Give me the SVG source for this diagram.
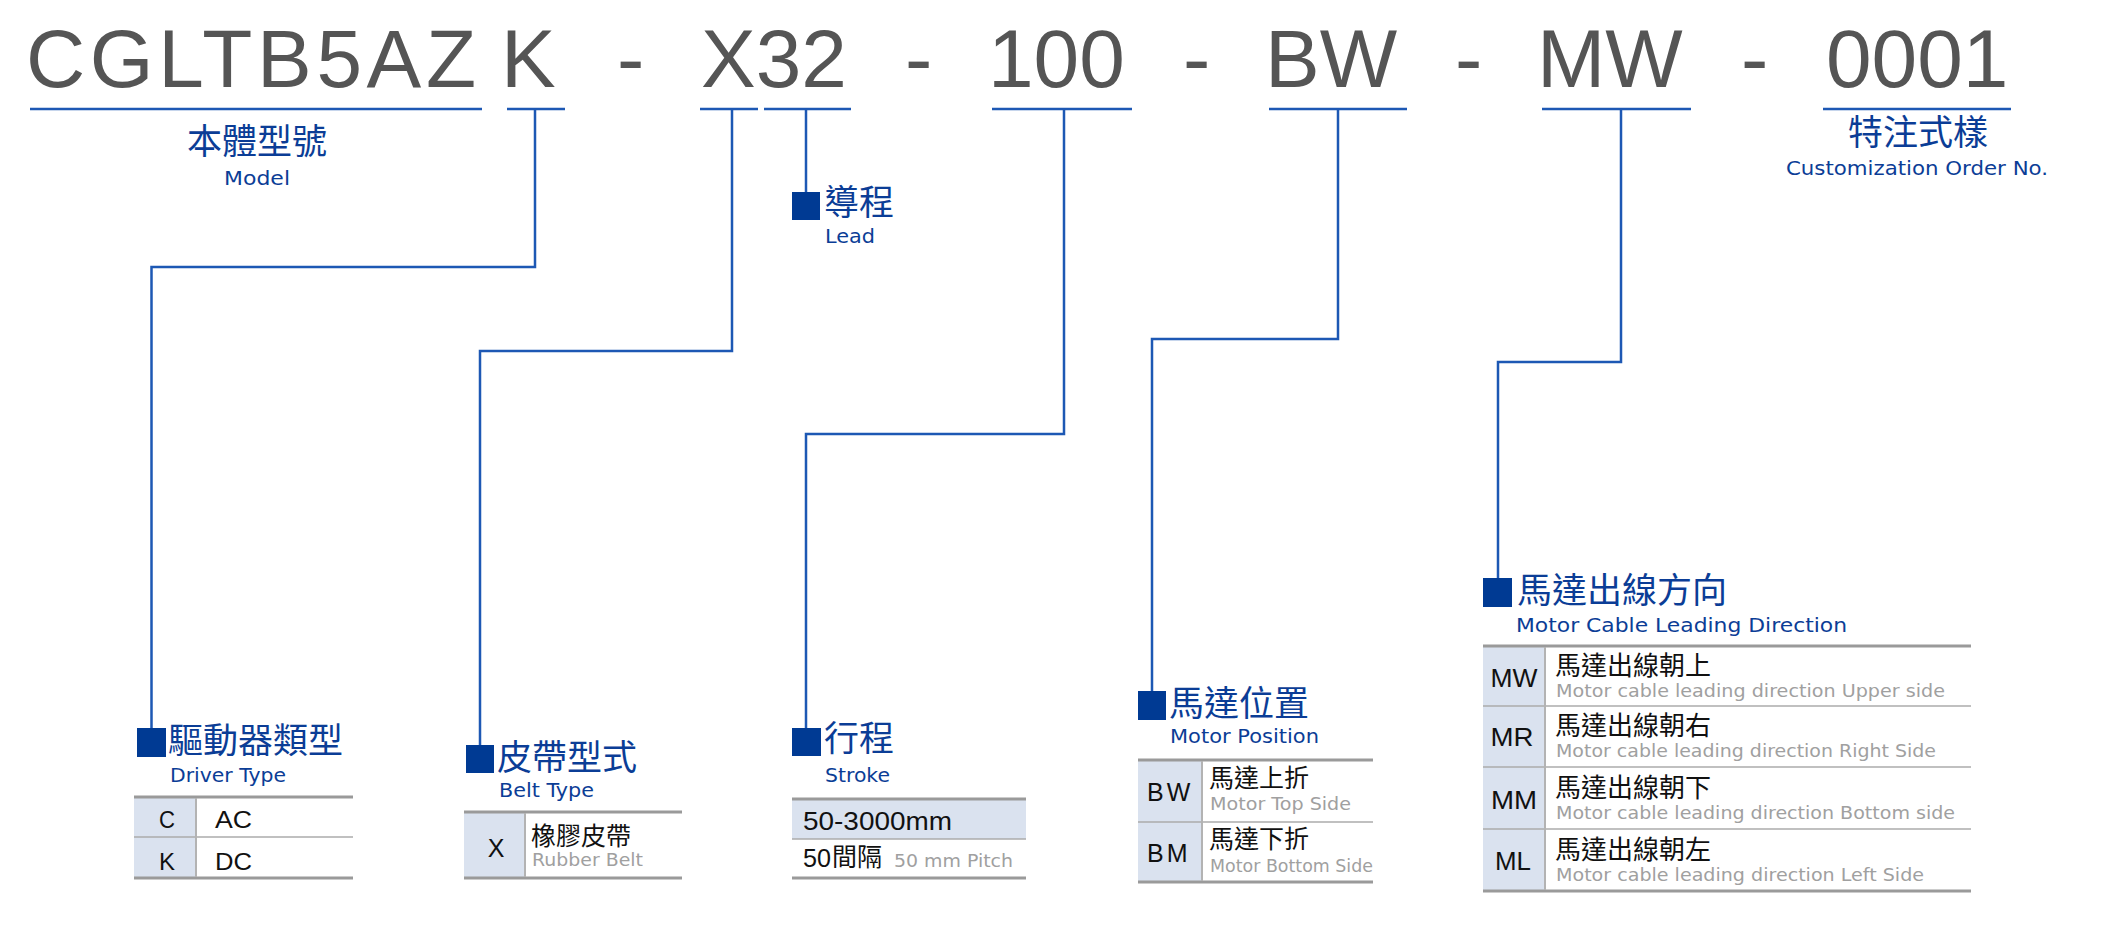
<svg xmlns="http://www.w3.org/2000/svg" width="2106" height="939" viewBox="0 0 2106 939">
<style>
.big{font-family:"Liberation Sans",Arial,sans-serif;font-size:82px;fill:#555555}
.ul{stroke:#1d58b4;stroke-width:2.5;fill:none}
.con{stroke:#1d58b4;stroke-width:2.5;fill:none}
.sq{fill:#003a93}
.cjkh{font-family:"Noto Sans CJK TC","Noto Sans CJK SC",sans-serif;font-size:35px;fill:#0b3d96}
.en{font-family:"DejaVu Sans","Noto Sans",sans-serif;font-size:20px;fill:#0b3d96}
.shade{fill:#dae2ef}
.thick{stroke:#9a9a9a;stroke-width:3}
.thin{stroke:#ababab;stroke-width:1.5}
.col{stroke:#b3b3b3;stroke-width:2}
.code{font-family:"Liberation Sans",Arial,sans-serif;font-size:23px;fill:#111}
.cjk{font-family:"Noto Sans CJK TC","Noto Sans CJK SC",sans-serif;font-size:25px;fill:#111}
.gray{font-family:"DejaVu Sans","Noto Sans",sans-serif;font-size:17px;fill:#a0a0a0}
</style>
<rect width="2106" height="939" fill="#ffffff"/>

<g id="title">
<text class="big" x="26" y="87" textLength="450" lengthAdjust="spacing">CGLTB5AZ</text>
<text class="big" x="501" y="87">K</text>
<text class="big" x="617" y="87">-</text>
<text class="big" x="701" y="87">X32</text>
<text class="big" x="905" y="87">-</text>
<text class="big" x="988" y="87">100</text>
<text class="big" x="1183" y="87">-</text>
<text class="big" x="1265" y="87">BW</text>
<text class="big" x="1455" y="87">-</text>
<text class="big" x="1537" y="87">MW</text>
<text class="big" x="1741" y="87">-</text>
<text class="big" x="1826" y="87">0001</text>
<path class="ul" d="M30 109H482M507 109H565M700 109H758M764 109H851M992 109H1132M1269 109H1407M1542 109H1691M1823 109H2011"/>
</g>

<g id="connectors">
<path class="con" d="M535 109V267H151.5V728"/>
<path class="con" d="M732 109V351H480V745"/>
<path class="con" d="M806 109V192"/>
<path class="con" d="M1064 109V434H806V728"/>
<path class="con" d="M1338 109V339H1152V691"/>
<path class="con" d="M1621 109V362H1498V578"/>
</g>

<g id="model">
<text class="cjkh" x="257" y="154" text-anchor="middle">本體型號</text>
<text class="en" x="224" y="185" textLength="66" lengthAdjust="spacingAndGlyphs">Model</text>
</g>

<g id="custom">
<text class="cjkh" x="1918" y="145" text-anchor="middle">特注式樣</text>
<text class="en" x="1786" y="175" textLength="262" lengthAdjust="spacingAndGlyphs">Customization Order No.</text>
</g>

<g id="lead">
<rect class="sq" x="792" y="192" width="28" height="28"/>
<text class="cjkh" x="824" y="215">導程</text>
<text class="en" x="825" y="243" textLength="50" lengthAdjust="spacingAndGlyphs">Lead</text>
</g>

<g id="driver">
<rect class="sq" x="137" y="728" width="29" height="29"/>
<text class="cjkh" x="168" y="753">驅動器類型</text>
<text class="en" x="170" y="782" textLength="116" lengthAdjust="spacingAndGlyphs">Driver Type</text>
<rect class="shade" x="134" y="797" width="62" height="81"/>
<line class="thick" x1="134" y1="797" x2="353" y2="797"/>
<line class="thin" x1="134" y1="837" x2="353" y2="837"/>
<line class="thick" x1="134" y1="878" x2="353" y2="878"/>
<line class="col" x1="196" y1="798" x2="196" y2="877"/>
<text class="code" x="167" y="828" text-anchor="middle" textLength="16" lengthAdjust="spacingAndGlyphs">C</text>
<text class="code" x="215" y="828" textLength="37" lengthAdjust="spacingAndGlyphs">AC</text>
<text class="code" x="167" y="870" text-anchor="middle" textLength="16" lengthAdjust="spacingAndGlyphs">K</text>
<text class="code" x="215" y="870" textLength="37" lengthAdjust="spacingAndGlyphs">DC</text>
</g>

<g id="belt">
<rect class="sq" x="466" y="745" width="28" height="28"/>
<text class="cjkh" x="497" y="770">皮帶型式</text>
<text class="en" x="499" y="797" textLength="95" lengthAdjust="spacingAndGlyphs">Belt Type</text>
<rect class="shade" x="464" y="812" width="61" height="66"/>
<line class="thick" x1="464" y1="812" x2="682" y2="812"/>
<line class="thick" x1="464" y1="878" x2="682" y2="878"/>
<line class="col" x1="525" y1="813" x2="525" y2="877"/>
<text class="code" x="496" y="857" text-anchor="middle" style="font-size:25px">X</text>
<text class="cjk" x="531" y="845">橡膠皮帶</text>
<text class="gray" x="532" y="866" textLength="111" lengthAdjust="spacingAndGlyphs">Rubber Belt</text>
</g>

<g id="stroke">
<rect class="sq" x="792" y="728" width="29" height="28"/>
<text class="cjkh" x="824" y="751">行程</text>
<text class="en" x="825" y="782" textLength="65" lengthAdjust="spacingAndGlyphs">Stroke</text>
<rect class="shade" x="792" y="799" width="234" height="40"/>
<line class="thick" x1="792" y1="799" x2="1026" y2="799"/>
<line class="thin" x1="792" y1="839" x2="1026" y2="839"/>
<line class="thick" x1="792" y1="878" x2="1026" y2="878"/>
<text class="code" x="803" y="830" textLength="149" lengthAdjust="spacingAndGlyphs" style="font-size:25px">50-3000mm</text>
<text class="code" x="803" y="867" style="font-size:25px" textLength="28" lengthAdjust="spacingAndGlyphs">50</text>
<text class="cjk" x="832" y="866">間隔</text>
<text class="gray" x="894" y="867" textLength="119" lengthAdjust="spacingAndGlyphs">50 mm Pitch</text>
</g>

<g id="motor-position">
<rect class="sq" x="1138" y="691" width="28" height="29"/>
<text class="cjkh" x="1169" y="716">馬達位置</text>
<text class="en" x="1170" y="743" textLength="149" lengthAdjust="spacingAndGlyphs">Motor Position</text>
<rect class="shade" x="1138" y="760" width="64" height="122"/>
<line class="thick" x1="1138" y1="760" x2="1373" y2="760"/>
<line class="thin" x1="1138" y1="822" x2="1373" y2="822"/>
<line class="thick" x1="1138" y1="882" x2="1373" y2="882"/>
<line class="col" x1="1202" y1="761" x2="1202" y2="881"/>
<text class="code" x="1147" y="801" style="font-size:25px;letter-spacing:3px">BW</text>
<text class="cjk" x="1209" y="787">馬達上折</text>
<text class="gray" x="1210" y="810" textLength="141" lengthAdjust="spacingAndGlyphs">Motor Top Side</text>
<text class="code" x="1147" y="862" style="font-size:25px;letter-spacing:3px">BM</text>
<text class="cjk" x="1209" y="848">馬達下折</text>
<text class="gray" x="1210" y="872" textLength="163" lengthAdjust="spacingAndGlyphs">Motor Bottom Side</text>
</g>

<g id="cable-direction">
<rect class="sq" x="1483" y="578" width="29" height="29"/>
<text class="cjkh" x="1517" y="603">馬達出線方向</text>
<text class="en" x="1516" y="632" textLength="331" lengthAdjust="spacingAndGlyphs">Motor Cable Leading Direction</text>
<rect class="shade" x="1483" y="646" width="62" height="245"/>
<line class="thick" x1="1483" y1="646" x2="1971" y2="646"/>
<line class="thin" x1="1483" y1="706" x2="1971" y2="706"/>
<line class="thin" x1="1483" y1="767" x2="1971" y2="767"/>
<line class="thin" x1="1483" y1="829" x2="1971" y2="829"/>
<line class="thick" x1="1483" y1="891" x2="1971" y2="891"/>
<line class="col" x1="1545" y1="647" x2="1545" y2="890"/>
<text class="code" x="1514" y="687" text-anchor="middle" textLength="47" lengthAdjust="spacingAndGlyphs" style="font-size:25px">MW</text>
<text class="cjk" x="1555" y="675" style="font-size:26px">馬達出線朝上</text>
<text class="gray" x="1556" y="697" textLength="389" lengthAdjust="spacingAndGlyphs">Motor cable leading direction Upper side</text>
<text class="code" x="1512" y="746" text-anchor="middle" textLength="43" lengthAdjust="spacingAndGlyphs" style="font-size:25px">MR</text>
<text class="cjk" x="1555" y="735" style="font-size:26px">馬達出線朝右</text>
<text class="gray" x="1556" y="757" textLength="380" lengthAdjust="spacingAndGlyphs">Motor cable leading direction Right Side</text>
<text class="code" x="1514" y="809" text-anchor="middle" textLength="46" lengthAdjust="spacingAndGlyphs" style="font-size:25px">MM</text>
<text class="cjk" x="1555" y="797" style="font-size:26px">馬達出線朝下</text>
<text class="gray" x="1556" y="819" textLength="399" lengthAdjust="spacingAndGlyphs">Motor cable leading direction Bottom side</text>
<text class="code" x="1513" y="870" text-anchor="middle" textLength="36" lengthAdjust="spacingAndGlyphs" style="font-size:25px">ML</text>
<text class="cjk" x="1555" y="859" style="font-size:26px">馬達出線朝左</text>
<text class="gray" x="1556" y="881" textLength="368" lengthAdjust="spacingAndGlyphs">Motor cable leading direction Left Side</text>
</g>
</svg>
